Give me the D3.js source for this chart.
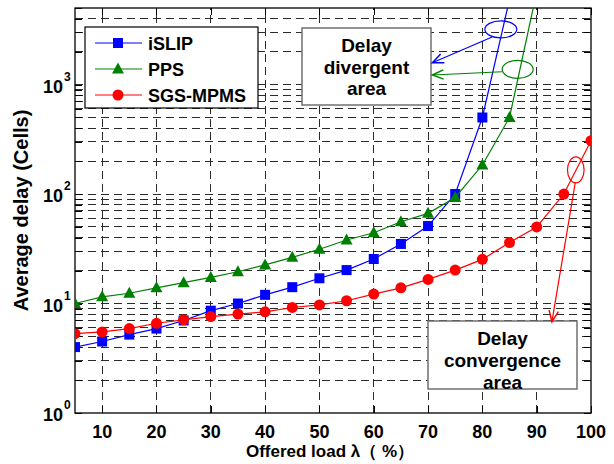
<!DOCTYPE html>
<html>
<head>
<meta charset="utf-8">
<script src="https://cdn.jsdelivr.net/npm/d3@7"></script>
<style>
  body { margin: 0; background: #fff; }
  text { font-family: Arial, "Liberation Sans", sans-serif; font-weight: bold; fill: #000; }
</style>
</head>
<body>
<svg id="chart" width="614" height="464"></svg>
<script>
// offered load (%) and average delay (cells)
const loads = [5, 10, 15, 20, 25, 30, 35, 40, 45, 50, 55, 60, 65, 70, 75, 80, 85, 90, 95, 100];
const islipDelay = [4.0, 4.5, 5.2, 5.9, 7.0, 8.6, 10, 12, 14.1, 17, 20.2, 25.5, 35, 51, 100, 500, 6000];
const ppsDelay = [10, 11.5, 12.4, 13.9, 15.5, 17.3, 19.5, 22.5, 26.4, 31.3, 38, 44.3, 55.8, 66.6, 93, 184, 500, 7000];
const sgsDelay = [5.3, 5.5, 5.9, 6.6, 7.1, 7.6, 8.0, 8.4, 9.2, 9.7, 10.6, 12.2, 13.9, 16.6, 20.2, 25.3, 36, 50, 100, 307];
const seriesNames = ["iSLIP", "PPS", "SGS-MPMS"];
const xTickValues = [10, 20, 30, 40, 50, 60, 70, 80, 90, 100];
const yMajorTicks = [1, 10, 100, 1000];

const margin = {top: 8, right: 23, bottom: 51, left: 75};
const W = 614, H = 464;
const svg = d3.select("#chart");

const x = d3.scaleLinear().domain([5, 100]).range([margin.left, W - margin.right]);
const y = d3.scaleLog().domain([1, 5000]).range([H - margin.bottom, margin.top]);
const yTicks = y.ticks();

svg.append("defs").append("clipPath").attr("id", "plot")
  .append("rect")
  .attr("x", margin.left).attr("y", margin.top)
  .attr("width", x.range()[1] - x.range()[0])
  .attr("height", y.range()[0] - y.range()[1]);

// grid (major + minor, dashed)
const grid = svg.append("g").attr("stroke", "#2a2a2a").attr("stroke-width", 1)
  .attr("stroke-dasharray", "8,5").attr("shape-rendering", "crispEdges");
grid.selectAll(".gy").data(yTicks.filter(t => t > 1 && t < 5000)).enter().append("line")
  .attr("x1", x(5)).attr("x2", x(100))
  .attr("y1", d => y(d)).attr("y2", d => y(d));
grid.selectAll(".gx").data(xTickValues.filter(t => t < 100)).enter().append("line")
  .attr("x1", d => x(d)).attr("x2", d => x(d))
  .attr("y1", y(1)).attr("y2", y(5000));

// ticks pointing inward on all four sides
function noDomain(g) {
  g.select(".domain").remove();
  g.selectAll("line").attr("stroke", "#000").attr("shape-rendering", "crispEdges");
}
svg.append("g").attr("transform", `translate(0,${y(1)})`)
  .call(d3.axisBottom(x).tickValues(xTickValues).tickSize(-7).tickFormat("")).call(noDomain);
svg.append("g").attr("transform", `translate(0,${y(5000)})`)
  .call(d3.axisTop(x).tickValues(xTickValues).tickSize(-7).tickFormat("")).call(noDomain);
svg.append("g").attr("transform", `translate(${x(5)},0)`)
  .call(d3.axisLeft(y).tickValues(yTicks).tickSize(-7).tickFormat("")).call(noDomain);
svg.append("g").attr("transform", `translate(${x(100)},0)`)
  .call(d3.axisRight(y).tickValues(yTicks).tickSize(-7).tickFormat("")).call(noDomain);

svg.append("rect")
  .attr("x", x(5)).attr("y", y(5000))
  .attr("width", x(100) - x(5)).attr("height", y(1) - y(5000))
  .attr("fill", "none").attr("stroke", "#000").attr("stroke-width", 1.3);

// tick labels
svg.selectAll(".xl").data(xTickValues).enter().append("text")
  .attr("x", d => x(d)).attr("y", y(1) + 25)
  .attr("text-anchor", "middle").attr("font-size", 18)
  .text(d => d);

const yl = svg.selectAll(".yl").data(yMajorTicks).enter().append("g");
yl.append("text")
  .attr("x", x(5) - 12).attr("y", d => y(d) + 8)
  .attr("text-anchor", "end").attr("font-size", 18)
  .text("10");
yl.append("text")
  .attr("x", x(5) - 11).attr("y", d => y(d) - 4)
  .attr("font-size", 12)
  .text(d => Math.round(Math.log10(d)));

// axis titles
svg.append("text")
  .attr("x", (x(5) + x(100)) / 2 - 3).attr("y", 457)
  .attr("text-anchor", "middle").attr("font-size", 17)
  .text("Offered load λ（ %）");
svg.append("text")
  .attr("transform", `translate(28,${(y(1) + y(5000)) / 2}) rotate(-90)`)
  .attr("text-anchor", "middle").attr("font-size", 20)
  .text("Average delay (Cells)");

// series
const series = [
  {name: seriesNames[0], values: islipDelay, color: "#0000ff", shape: "square"},
  {name: seriesNames[1], values: ppsDelay, color: "#008000", shape: "triangle"},
  {name: seriesNames[2], values: sgsDelay, color: "#ff0000", shape: "circle"}
];

function drawMarker(g, shape, color) {
  if (shape === "square") {
    g.append("rect").attr("x", -5).attr("y", -5).attr("width", 10).attr("height", 10).attr("fill", color);
  } else if (shape === "triangle") {
    g.append("path").attr("d", "M0,-6.5L6,4.5L-6,4.5Z").attr("fill", color);
  } else {
    g.append("circle").attr("r", 5.5).attr("fill", color);
  }
}

const line = d3.line().x(d => x(d[0])).y(d => y(d[1]));
const plot = svg.append("g").attr("clip-path", "url(#plot)");
series.forEach(s => {
  const pts = s.values.map((v, i) => [loads[i], v]);
  plot.append("path").datum(pts)
    .attr("d", line).attr("fill", "none")
    .attr("stroke", s.color).attr("stroke-width", 1.2);
  plot.selectAll(null).data(pts).enter().append("g")
    .attr("transform", d => `translate(${x(d[0])},${y(d[1])})`)
    .each(function () { drawMarker(d3.select(this), s.shape, s.color); });
});

// legend
const legend = svg.append("g");
legend.append("rect").attr("x", 85).attr("y", 27).attr("width", 173).attr("height", 81)
  .attr("fill", "#fff").attr("stroke", "#000").attr("stroke-width", 1.2);
series.forEach((s, i) => {
  const ly = 43 + i * 26;
  legend.append("line").attr("x1", 95).attr("x2", 142).attr("y1", ly).attr("y2", ly)
    .attr("stroke", s.color).attr("stroke-width", 1);
  drawMarker(legend.append("g").attr("transform", `translate(118,${ly})`), s.shape, s.color);
  legend.append("text").attr("x", 148).attr("y", ly + 6.5).attr("font-size", 18).text(s.name);
});

// annotation boxes
function textBox(bx, by, bw, bh, lines, lineY) {
  const g = svg.append("g");
  g.append("rect").attr("x", bx).attr("y", by).attr("width", bw).attr("height", bh)
    .attr("fill", "#fff").attr("stroke", "#707070").attr("stroke-width", 1.5);
  lines.forEach((t, i) => {
    g.append("text").attr("x", bx + bw / 2).attr("y", lineY[i] + 7)
      .attr("text-anchor", "middle").attr("font-size", 19).text(t);
  });
}
textBox(302, 28, 129, 77, ["Delay", "divergent", "area"], [45, 67, 88]);
textBox(428, 321, 149, 68, ["Delay", "convergence", "area"], [338, 360, 382]);

// ellipses and arrows, positioned in data units
const callouts = [
  {color: "#0000ff", cx: 83.4, cy: 3190, rx: 16, ry: 8.5, from: [81.8, 2715], to: [70.8, 1581]},
  {color: "#008000", cx: 86.5, cy: 1377, rx: 15.5, ry: 9, from: [83.6, 1309], to: [70.8, 1222]},
  {color: "#ff0000", cx: 97.2, cy: 166, rx: 8.3, ry: 13, from: [97.1, 127], to: [92.8, 6.8]}
];
callouts.forEach(c => {
  svg.append("ellipse").attr("cx", x(c.cx)).attr("cy", y(c.cy))
    .attr("rx", c.rx).attr("ry", c.ry)
    .attr("fill", "none").attr("stroke", c.color).attr("stroke-width", 1.2);
  const x1 = x(c.from[0]), y1 = y(c.from[1]), x2 = x(c.to[0]), y2 = y(c.to[1]);
  svg.append("line").attr("x1", x1).attr("y1", y1).attr("x2", x2).attr("y2", y2)
    .attr("stroke", c.color).attr("stroke-width", 1.2);
  const a = Math.atan2(y2 - y1, x2 - x1), L = 12, sp = 0.4;
  const p1 = [x2 - L * Math.cos(a - sp), y2 - L * Math.sin(a - sp)];
  const p2 = [x2 - L * Math.cos(a + sp), y2 - L * Math.sin(a + sp)];
  svg.append("path")
    .attr("d", `M${p1}L${x2},${y2}L${p2}`)
    .attr("fill", "none").attr("stroke", c.color).attr("stroke-width", 1.5);
});
</script>
</body>
</html>
